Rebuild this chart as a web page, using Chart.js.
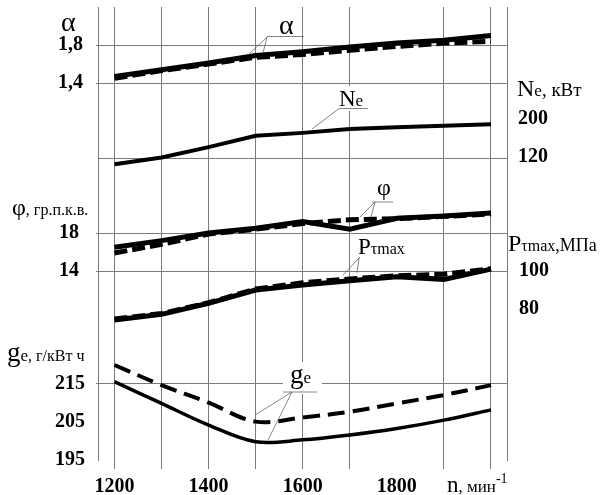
<!DOCTYPE html>
<html>
<head>
<meta charset="utf-8">
<script src="https://cdn.jsdelivr.net/npm/chart.js@4.4.1/dist/chart.umd.min.js"></script>
<style>
  html, body { margin: 0; padding: 0; background: #fff; }
  #wrap { width: 610px; height: 495px; }
</style>
</head>
<body>
<div id="wrap"><canvas id="engineChart" width="610" height="495"></canvas></div>
<script>
// Engine speed, мин-1
const speeds = [1200, 1300, 1400, 1500, 1600, 1700, 1800, 1900, 2000];
const speedLabels = [1200, 1400, 1600, 1800];

// Excess air ratio α
const alphaSolid  = [1.47, 1.54, 1.61, 1.69, 1.73, 1.78, 1.82, 1.85, 1.90];
const alphaDashed = [1.45, 1.53, 1.60, 1.67, 1.70, 1.745, 1.785, 1.82, 1.84];

// Effective power Ne, кВт
const neValues = [109, 123, 145, 169, 175, 183, 187, 190, 193];

// Injection advance φ, гр.п.к.в.
const phiSolid  = [16.5, 17.2, 18.0, 18.5, 19.2, 18.4, 19.55, 19.8, 20.1];
const phiDashed = [15.9, 16.8, 17.9, 18.4, 19.0, 19.4, 19.5, 19.75, 20.0];

// Max cylinder pressure Pτmax, МПа
const pSolid  = [74.2, 77.2, 83.0, 90.0, 92.6, 94.9, 97.0, 95.6, 101.0];
const pDashed = [74.8, 77.6, 83.3, 90.5, 93.8, 95.8, 97.5, 98.3, 101.2];

// Specific fuel consumption ge, г/кВт ч
const geSolid  = [215.6, 209.9, 204.2, 199.8, 200.3, 201.6, 203.3, 205.5, 208.2];
const geDashed = [220.0, 214.7, 210.1, 205.1, 206.2, 207.7, 209.9, 212.1, 214.7];

// tick values of each stacked axis
const alphaTicks = [1.4, 1.8];
const neTicks = [120, 200];
const phiTicks = [14, 18];
const pTicks = [80, 100];
const geTicks = [195, 205, 215];

const serif = '"Liberation Serif", "DejaVu Serif", serif';
const gridColor = '#7a7a7a';
const clear = 'rgba(0,0,0,0)';
const tickFont = { family: serif, size: 20, weight: 'bold' };

/**
 * Stacked y axis that takes no room: labels sit outside the plot area
 */
function yAxis(position, min, max, ticks, gridAt, padding, labelOffset) {
    return {
        type: 'linear',
        position: position,
        min: min,
        max: max,
        afterBuildTicks: s => { s.ticks = ticks.map(v => ({ value: v })); },
        afterFit: s => { s.width = 0; s.paddingTop = 0; s.paddingBottom = 0; },
        border: { display: false },
        grid: {
            color: c => (c.tick && gridAt.includes(c.tick.value)) ? gridColor : clear,
            drawTicks: position === 'left',
            tickLength: 2
        },
        ticks: {
            font: tickFont,
            color: '#000',
            padding: padding,
            labelOffset: labelOffset || 0,
            autoSkip: false,
            callback: v => String(v).replace('.', ',')
        }
    };
}

function line(label, data, axis, width, dash, smooth) {
    return {
        label: label,
        data: data,
        yAxisID: axis,
        borderColor: '#000',
        backgroundColor: '#000',
        borderWidth: width,
        borderDash: dash || [],
        pointRadius: 0,
        fill: false,
        tension: smooth ? 0.35 : 0
    };
}

// text with mixed sizes, left aligned on a baseline
function drawParts(ctx, x, y, parts) {
    let cx = x;
    parts.forEach(p => {
        ctx.font = (p.bold ? 'bold ' : '') + p.size + 'px ' + serif;
        ctx.fillText(p.text, cx, y + (p.dy || 0));
        cx += ctx.measureText(p.text).width;
    });
}

const axisTitles = [
    { x: 61, y: 31, parts: [{ text: 'α', size: 28 }] },
    { x: 12, y: 215, parts: [{ text: 'φ', size: 24 }, { text: ', гр.п.к.в.', size: 16 }] },
    { x: 7, y: 361, parts: [{ text: 'g', size: 27 }, { text: 'e', size: 17 }, { text: ', г/кВт ч', size: 16 }] },
    { x: 517, y: 96, parts: [{ text: 'N', size: 24 }, { text: 'e', size: 17 }, { text: ', кВт', size: 19 }] },
    { x: 508, y: 251, parts: [{ text: 'P', size: 24 }, { text: 'τmax', size: 16 }, { text: ',МПа', size: 18 }] },
    { x: 447, y: 492, parts: [{ text: 'n', size: 23 }, { text: ', мин', size: 17 }, { text: '-1', size: 14, dy: -9 }] }
];

const curveLabels = [
    { x: 279, y: 34, parts: [{ text: 'α', size: 28 }], under: [267, 304, 36.5],
      leaders: [[267, 37, 248, 55], [267, 37, 263, 53]] },
    { x: 339, y: 106, parts: [{ text: 'N', size: 23 }, { text: 'e', size: 17 }], under: [339, 368, 108.5],
      leaders: [[339, 108.5, 312, 129]], box: [336, 86, 36, 25] },
    { x: 377, y: 195, parts: [{ text: 'φ', size: 24 }], under: [372, 393, 202],
      leaders: [[375, 202, 360, 217], [375, 202, 371, 217]] },
    { x: 358, y: 254, parts: [{ text: 'P', size: 23 }, { text: 'τmax', size: 16 }],
      leaders: [[360, 257, 343, 275], [359, 258, 357, 273]] },
    { x: 290, y: 383, parts: [{ text: 'g', size: 27 }, { text: 'e', size: 17 }], under: [283, 317, 392],
      leaders: [[292, 392, 255, 415], [292, 392, 268, 440]], box: [283, 362, 39, 32] }
];

const textPlugin = {
    id: 'engineText',
    // zero-width axes would clip their own labels, so widen their boxes to the canvas edge
    afterLayout(chart) {
        Object.values(chart.scales).forEach(s => {
            if (s.options.position === 'left') s.left = 0;
            if (s.options.position === 'right') s.right = chart.width;
        });
    },
    beforeDatasetsDraw(chart) {
        const ctx = chart.ctx;
        ctx.save();
        ctx.fillStyle = '#fff';
        curveLabels.forEach(l => { if (l.box) ctx.fillRect(l.box[0], l.box[1], l.box[2], l.box[3]); });
        ctx.restore();
    },
    afterDraw(chart) {
        const ctx = chart.ctx;
        ctx.save();
        ctx.fillStyle = '#000';
        ctx.textAlign = 'left';
        ctx.textBaseline = 'alphabetic';
        axisTitles.forEach(t => drawParts(ctx, t.x, t.y, t.parts));
        curveLabels.forEach(l => {
            ctx.fillStyle = '#000';
            drawParts(ctx, l.x, l.y, l.parts);
            ctx.strokeStyle = '#666';
            ctx.lineWidth = 0.8;
            ctx.beginPath();
            if (l.under) {
                ctx.moveTo(l.under[0], l.under[2]);
                ctx.lineTo(l.under[1], l.under[2]);
            }
            l.leaders.forEach(s => {
                ctx.moveTo(s[0], s[1]);
                ctx.lineTo(s[2], s[3]);
            });
            ctx.stroke();
        });
        ctx.restore();
    }
};

const leftEdge = yAxis('left', -2.568, 2.2, alphaTicks, alphaTicks, 13);
leftEdge.border = { display: true, color: gridColor, width: 1 };
const rightEdge = yAxis('right', -513.7, 440, neTicks, [120], 11, -2);
rightEdge.border = { display: true, color: gridColor, width: 1 };

new Chart(document.getElementById('engineChart'), {
    type: 'line',
    data: {
        labels: speeds,
        datasets: [
            line('α', speeds.map((n, i) => ({ x: n, y: alphaSolid[i] })), 'yAlpha', 5),
            line('α dashed', speeds.map((n, i) => ({ x: n, y: alphaDashed[i] })), 'yAlpha', 5, [13, 5]),
            line('Ne', speeds.map((n, i) => ({ x: n, y: neValues[i] })), 'yNe', 4),
            line('φ', speeds.map((n, i) => ({ x: n, y: phiSolid[i] })), 'yPhi', 5),
            line('φ dashed', speeds.map((n, i) => ({ x: n, y: phiDashed[i] })), 'yPhi', 5, [13, 5]),
            line('Pτmax', speeds.map((n, i) => ({ x: n, y: pSolid[i] })), 'yP', 5),
            line('Pτmax dashed', speeds.map((n, i) => ({ x: n, y: pDashed[i] })), 'yP', 5, [13, 5]),
            line('ge', speeds.map((n, i) => ({ x: n, y: geSolid[i] })), 'yGe', 3.5, null, true),
            line('ge dashed', speeds.map((n, i) => ({ x: n, y: geDashed[i] })), 'yGe', 4, [17, 8], true)
        ]
    },
    options: {
        responsive: false,
        animation: false,
        events: [],
        layout: { autoPadding: false, padding: { left: 98, right: 103, top: 7, bottom: 0 } },
        plugins: { legend: { display: false }, tooltip: { enabled: false } },
        scales: {
            x: {
                type: 'linear',
                min: 1165,
                max: 2034,
                afterBuildTicks: s => { s.ticks = speeds.map(v => ({ value: v })); },
                afterFit: s => { s.height = 35; s.paddingLeft = 0; s.paddingRight = 0; },
                border: { display: false },
                grid: {
                    color: c => (c.tick && c.tick.value === 1800) ? clear : gridColor,
                    tickLength: 9
                },
                ticks: {
                    font: tickFont,
                    color: '#000',
                    padding: 6,
                    maxRotation: 0,
                    autoSkip: false,
                    callback: v => speedLabels.includes(v) ? String(v) : ''
                }
            },
            yAlpha: leftEdge,
            yPhi: yAxis('left', -5.895, 41.79, phiTicks, phiTicks, 17),
            yGe: yAxis('left', 195, 314.2, geTicks, [215], 11),
            yNe: rightEdge,
            yP: yAxis('right', 0.526, 238.95, pTicks, [], 12)
        }
    },
    plugins: [textPlugin]
});
</script>
</body>
</html>
